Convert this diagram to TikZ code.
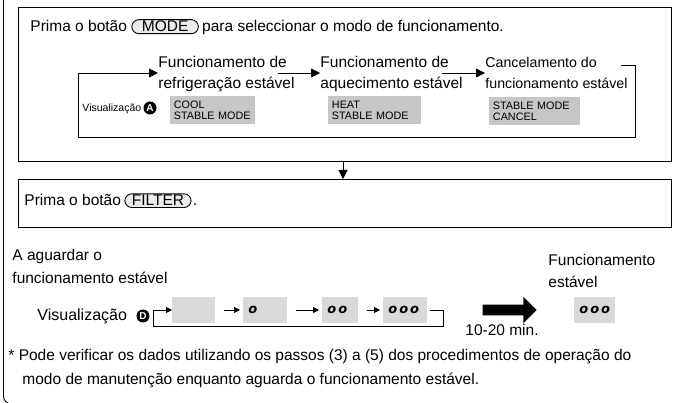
\documentclass[tikz,border=0pt]{standalone}
\usepackage{fontspec}
\setmainfont{Liberation Sans}
\newfontfamily\lcdfont{DejaVu Sans}[LetterSpace=15]
\usetikzlibrary{positioning,arrows.meta,shapes.arrows}

\begin{document}
\begin{tikzpicture}[x=1pt, y=-1pt, line width=0.9pt,
  txt/.style={inner sep=0pt, anchor=base west, font=\fontsize{15.5}{21}\selectfont},
  lbl/.style={inner sep=0pt, anchor=north west, align=left, font=\fontsize{15.5}{21}\selectfont},
  btn/.style={draw, fill=gray!15, rounded corners=7pt, inner xsep=10pt, inner ysep=1.5pt, font=\fontsize{15.5}{21}\selectfont},
  box/.style={draw, anchor=north west, inner sep=0pt},
  lcd/.style={fill=gray!45, anchor=north west, align=left, inner xsep=3.5pt, inner ysep=4.5pt, font=\fontsize{10.8}{11}\selectfont},
  seg/.style={fill=gray!30, anchor=west, minimum height=26pt, inner xsep=5pt, align=left, font=\lcdfont\fontsize{13}{13}\selectfont\bfseries\itshape},
  badge/.style={circle, fill=black, text=white, inner sep=0pt, font=\bfseries\fontsize{10}{10}\selectfont},
  flow/.style={-{Triangle[length=9pt,width=9pt]}},
  sflow/.style={-{Triangle[length=6pt,width=6pt]}, line width=0.8pt}]
  \useasboundingbox (0,0) rectangle (678,403);

  \draw[rounded corners=8pt] (3.5,-2) -- (3.5,404) -- (20,404);

  \node[box, minimum width=653pt, minimum height=154pt] (b1) at (18,7) {};
  \node[box, minimum width=653pt, minimum height=48pt] (b2) at (18,179) {};
  \coordinate (mid) at (343,170);
  \path[flow] (b1.south -| mid) edge (b2.north -| mid);

  \node[txt] (p1) at (30,32) {Prima o botão};
  \node[btn, base right=4pt of p1] (mode) {MODE};
  \node[txt, base right=3pt of mode] (p2) {para seleccionar o modo de funcionamento.};

  \node[lbl] (refr) at (158,56) {Funcionamento de\\refrigeração estável};
  \node[lbl] (aquec) at (320,56) {Funcionamento de\\aquecimento estável};
  \node[lbl, font=\fontsize{14.2}{21}\selectfont] (canc) at (485,57) {Cancelamento do\\funcionamento estável};
  \coordinate (hk1) at (621,65);
  \coordinate (a2s) at (278,73);
  \coordinate (a3s) at (442,73);
  \draw[flow] (hk1) -| (635,137) -| (78,73) -- (refr.west |- a2s);
  \path[flow] (a2s) edge (aquec.west |- a2s)
              (a3s) edge (canc.west |- a3s);

  \node[txt, font=\fontsize{10.5}{10.5}\selectfont] (visA) at (82,112) {Visualização};
  \node[badge, minimum size=13pt] (A) at (150,108) {A};
  \node[lcd, text width=78pt] (cool) at (170,96) {COOL\\STABLE MODE};
  \node[lcd, text width=86pt] (heat) at (328,96) {HEAT\\STABLE MODE};
  \node[lcd, text width=84pt] (cancel) at (489,97) {STABLE MODE\\CANCEL};

  \node[txt] (p3) at (24,206) {Prima o botão};
  \node[btn, inner xsep=7pt, base right=3pt of p3] (filter) {FILTER};
  \node[txt, base right=1pt of filter] (p4) {.};

  \node[lbl, font=\fontsize{15.5}{23}\selectfont] (wait) at (12,249) {A aguardar o\\funcionamento estável};
  \node[lbl, font=\fontsize{15.5}{22}\selectfont] (stab) at (548,254) {Funcionamento\\estável};

  \node[txt, font=\fontsize{16}{16}\selectfont] (visD) at (37,321) {Visualização};
  \node[badge, minimum size=13pt] (D) at (143,316) {D};
  \node[seg, text width=33pt] (d1) at (172,310) {};
  \node[seg, text width=34pt] (d2) at (243,310) {o};
  \node[seg, text width=26pt] (d3) at (322,310) {oo};
  \node[seg, text width=34pt] (d4) at (383,310) {ooo};
  \coordinate (hk2) at (430,310);
  \draw[sflow] (hk2) -| (443,326) -| (153,310) -- (d1.west);
  \path[sflow, shorten <=8pt, shorten >=3pt]
    (d1) edge (d2)
    (d2) edge (d3)
    (d3) edge (d4);

  \node[single arrow, fill=black, inner sep=5pt, minimum height=54pt,
        single arrow head extend=8pt] (big) at (507,310) {};
  \node[txt, anchor=base] (mins) at (502,336) {10-20 min.};
  \node[seg, text width=31pt] (fin) at (574,310) {ooo};

  \node[lbl, font=\fontsize{15.5}{24}\selectfont] (note) at (8,349)
    {* Pode verificar os dados utilizando os passos (3) a (5) dos procedimentos de operação do\\
     \hspace*{14pt}modo de manutenção enquanto aguarda o funcionamento estável.};
\end{tikzpicture}
\end{document}
